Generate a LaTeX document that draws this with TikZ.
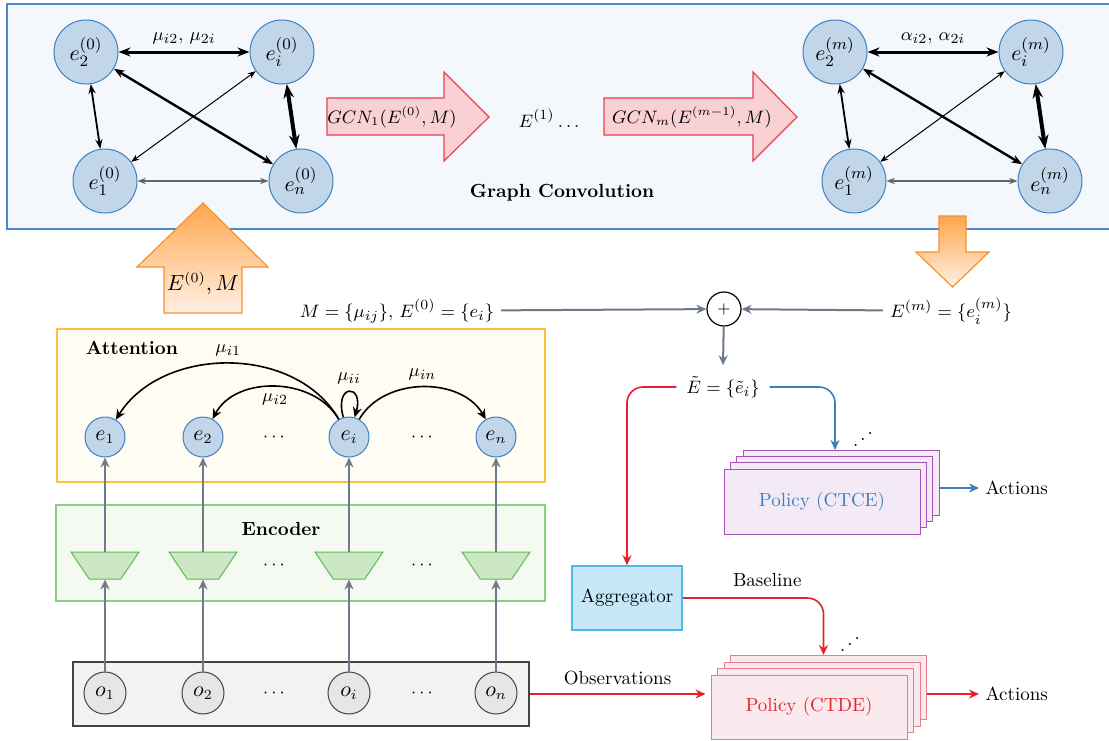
\documentclass[tikz,border=0pt]{standalone}
\usepackage{graphicx}
\usetikzlibrary{arrows.meta,shapes.geometric,calc}
\definecolor{gbfill}{HTML}{F4F8FC}
\definecolor{gbdraw}{HTML}{4A89C8}
\definecolor{nfill}{HTML}{C2D6EA}
\definecolor{ndraw}{HTML}{3F80C0}
\definecolor{pinkfill}{HTML}{F9D0D4}
\definecolor{pinkdraw}{HTML}{E8414F}
\definecolor{orangetop}{HTML}{FFA64D}
\definecolor{orangebot}{HTML}{FFF1E4}
\definecolor{orangedraw}{HTML}{F5922A}
\definecolor{attfill}{HTML}{FFFCF3}
\definecolor{attdraw}{HTML}{F7C33C}
\definecolor{encfill}{HTML}{F4F9F2}
\definecolor{encdraw}{HTML}{8CCF84}
\definecolor{trapfill}{HTML}{CBE7C6}
\definecolor{trapdraw}{HTML}{5DBB55}
\definecolor{obsfill}{HTML}{F2F2F2}
\definecolor{obsdraw}{HTML}{444444}
\definecolor{onodefill}{HTML}{E6E6E6}
\definecolor{slate}{HTML}{6E7A8A}
\definecolor{redline}{HTML}{E8202A}
\definecolor{blueline}{HTML}{3A7EBF}
\definecolor{aggfill}{HTML}{C6E8F8}
\definecolor{aggdraw}{HTML}{4FB8E6}
\definecolor{ctcefill}{HTML}{F3EAF5}
\definecolor{ctcedraw}{HTML}{A653BA}
\definecolor{ctdefill}{HTML}{FBEAED}
\definecolor{ctdedraw}{HTML}{E57F8D}
\begin{document}
\begin{tikzpicture}[x=0.5pt,y=0.5pt,line width=0.5pt,
  every node/.append style={font=\fontsize{9.5pt}{11pt}\selectfont},
  gnode/.style={circle,draw=ndraw,fill=nfill,minimum size=32pt,inner sep=0pt,line width=0.5pt,font=\fontsize{11pt}{13pt}\selectfont},
  anode/.style={circle,draw=ndraw,fill=nfill,minimum size=20pt,inner sep=0pt,line width=0.5pt,font=\fontsize{10.5pt}{12pt}\selectfont},
  onode/.style={circle,draw=obsdraw,fill=onodefill,minimum size=21pt,inner sep=0pt,line width=0.5pt,font=\fontsize{10.5pt}{12pt}\selectfont},
  encbox/.style={trapezium,trapezium angle=60,trapezium stretches=true,shape border rotate=180,minimum width=34pt,minimum height=13.5pt,inner sep=1pt,draw=trapdraw,fill=trapfill,line width=0.5pt},
  gedge/.style={{Stealth[length=3pt 2]}-{Stealth[length=3pt 2]}},
  garrow/.style={-{Stealth[length=5pt,width=4.5pt]},draw=slate,line width=1pt},
  attarrow/.style={-{Stealth[length=5pt,width=4.5pt]},line width=0.8pt},
  redarrow/.style={-{Stealth[length=5pt,width=4.5pt]},draw=redline,line width=0.8pt},
  bluearrow/.style={-{Stealth[length=5pt,width=4.5pt]},draw=blueline,line width=0.8pt},
  ctcebox/.style={rectangle,draw=ctcedraw,fill=ctcefill,minimum width=98pt,minimum height=32.5pt,inner sep=0pt},
  ctdebox/.style={rectangle,draw=ctdedraw,fill=ctdefill,minimum width=98pt,minimum height=32pt,inner sep=0pt},
  bigarrow/.style={draw=pinkdraw,fill=pinkfill,line width=0.6pt},
  orangearrow/.style={draw=orangedraw,top color=orangetop,bottom color=orangebot,line width=0.6pt},
  boldlabel/.style={font=\fontsize{9.5pt}{11pt}\selectfont\bfseries}
]
\useasboundingbox (0,0) rectangle (1109,-740);

% ---------- Graph convolution box ----------
\draw[draw=gbdraw,fill=gbfill,line width=0.6pt] (7,-4) rectangle (1125,-229);

% left graph
\node[gnode] (a2) at (86,-52) {$e_2^{(0)}$};
\node[gnode] (ai) at (282,-52) {$e_i^{(0)}$};
\node[gnode] (a1) at (105,-181) {$e_1^{(0)}$};
\node[gnode] (an) at (301,-181) {$e_n^{(0)}$};
\draw[gedge,line width=1.5pt] (a2) -- node[above] {$\mu_{i2},\,\mu_{2i}$} (ai);
\draw[gedge,line width=0.9pt] (a2) -- (a1);
\draw[gedge,line width=0.5pt] (ai) -- (a1);
\draw[gedge,line width=1.2pt] (a2) -- (an);
\draw[gedge,line width=2pt] (ai) -- (an);
\draw[gedge,line width=0.6pt,draw=black!60] (a1) -- (an);

% right graph
\node[gnode] (b2) at (835,-52) {$e_2^{(m)}$};
\node[gnode] (bi) at (1031,-52) {$e_i^{(m)}$};
\node[gnode] (b1) at (854,-181) {$e_1^{(m)}$};
\node[gnode] (bn) at (1050,-181) {$e_n^{(m)}$};
\draw[gedge,line width=1.5pt] (b2) -- node[above] {$\alpha_{i2},\,\alpha_{2i}$} (bi);
\draw[gedge,line width=0.9pt] (b2) -- (b1);
\draw[gedge,line width=0.5pt] (bi) -- (b1);
\draw[gedge,line width=1.2pt] (b2) -- (bn);
\draw[gedge,line width=2pt] (bi) -- (bn);
\draw[gedge,line width=0.6pt,draw=black!60] (b1) -- (bn);

% GCN arrows
\draw[bigarrow] (327,-98) -- (444,-98) -- (444,-72) -- (489,-117) -- (444,-161) -- (444,-135) -- (327,-135) -- cycle;
\node[font=\fontsize{9pt}{11pt}\selectfont] (gcn1) at (392,-117) {$GCN_1(E^{(0)},M)$};
\node (e1dots) at (549,-118) {$E^{(1)}\ldots$};
\draw[bigarrow] (604,-98) -- (753,-98) -- (753,-72) -- (797,-117) -- (753,-161) -- (753,-135) -- (604,-135) -- cycle;
\node[font=\fontsize{9pt}{11pt}\selectfont] (gcnm) at (692,-117) {$GCN_m(E^{(m-1)},M)$};
\node[boldlabel] (gclabel) at (562,-193) {Graph Convolution};

% orange arrows
\path[orangearrow] (164,-313) -- (164,-267) -- (137,-267) -- (203,-203) -- (268,-267) -- (242,-267) -- (242,-313) -- cycle;
\node[font=\fontsize{10.5pt}{12pt}\selectfont] (e0m) at (203,-283) {$E^{(0)},M$};
\path[orangearrow] (939,-216) -- (966,-216) -- (966,-252) -- (989,-252) -- (952.5,-287) -- (916,-252) -- (939,-252) -- cycle;

% ---------- Attention ----------
\draw[draw=attdraw,fill=attfill,line width=0.6pt] (57,-329) rectangle (545,-482);
\node[boldlabel] (attlabel) at (132,-348) {Attention};
\node[anode] (p1) at (105,-437) {$e_1$};
\node[anode] (p2) at (203,-437) {$e_2$};
\node (pd1) at (274,-437) {$\cdots$};
\node[anode] (pi) at (349,-437) {$e_i$};
\node (pd2) at (422,-437) {$\cdots$};
\node[anode] (pn) at (496,-437) {$e_n$};
\draw[attarrow] (pi) to[out=120,in=58] node[above] {$\mu_{i1}$} (p1);
\draw[attarrow] (pi) to[out=120,in=62] node[below] {$\mu_{i2}$} (p2);
\draw[attarrow] (pi) to[out=106,in=74,min distance=15pt,looseness=8] node[above] {$\mu_{ii}$} (pi);
\draw[attarrow] (pi) to[out=60,in=120] node[above] {$\mu_{in}$} (pn);

% ---------- Encoder ----------
\draw[draw=encdraw,fill=encfill,line width=0.6pt] (56,-505) rectangle (545,-601);
\node[boldlabel] (enclabel) at (281,-529) {Encoder};
\node[encbox] (t1) at (105,-565.5) {};
\node[encbox] (t2) at (203,-565.5) {};
\node (td1) at (274,-565) {$\cdots$};
\node[encbox] (ti) at (349,-565.5) {};
\node (td2) at (422,-565) {$\cdots$};
\node[encbox] (tn) at (496,-565.5) {};

% ---------- Observations ----------
\node[rectangle,draw=obsdraw,fill=obsfill,minimum width=228pt,minimum height=32pt,inner sep=0pt,line width=0.6pt] (obsbox) at (301,-694) {};
\node[onode] (o1) at (105,-693) {$o_1$};
\node[onode] (o2) at (203,-693) {$o_2$};
\node (od1) at (274,-693) {$\cdots$};
\node[onode] (oi) at (349,-693) {$o_i$};
\node (od2) at (422,-693) {$\cdots$};
\node[onode] (on) at (496,-693) {$o_n$};

\foreach \k in {1,2,i,n}{
  \draw[garrow] (o\k) -- (t\k);
  \draw[garrow] (t\k) -- (p\k);
}

% ---------- Combination ----------
\node (mtext) at (397,-311) {$M=\{\mu_{ij}\},\,E^{(0)}=\{e_i\}$};
\node[circle,draw=black,fill=white,minimum size=17pt,inner sep=0pt,line width=0.6pt,font=\fontsize{8pt}{9pt}\selectfont] (plus) at (724,-309) {$+$};
\node (emtext) at (951,-311) {$E^{(m)}=\{e_i^{(m)}\}$};
\node (etil) at (723,-387) {$\tilde{E}=\{\tilde{e}_i\}$};
\draw[garrow] (mtext) -- (plus);
\draw[garrow] (emtext) -- (plus);
\draw[garrow] (plus) -- ($(etil.north)+(0,4)$);

% aggregator
\node[rectangle,draw=aggdraw,fill=aggfill,minimum width=55pt,minimum height=32pt,inner sep=0pt,line width=0.8pt] (agg) at (627,-598) {Aggregator};
\draw[redarrow,rounded corners=8pt] ($(etil.west)+(-3,0)$) -| (agg.north);

% CTCE stack
\node[ctcebox] (c4) at (841,-483) {};
\node[ctcebox] (c3) at (834.7,-489.2) {};
\node[ctcebox] (c2) at (828.3,-495.4) {};
\node[ctcebox,text=blueline] (c1) at (822,-501.5) {Policy (CTCE)};
\coordinate (ctin) at ($(c4.north)+(-6,0)$);
\draw[bluearrow,rounded corners=8pt] ($(etil.east)+(3,0)$) -| (ctin);
\node (cdots) at (863,-433) {\reflectbox{$\ddots$}};
\node[anchor=west,inner sep=0pt] (act1) at (985,-488) {Actions};
\draw[bluearrow] (c4.east |- act1) -- ($(act1.west)+(-6,0)$);

% CTDE stack
\node[ctdebox] (d4) at (828.5,-687.5) {};
\node[ctdebox] (d3) at (822,-694) {};
\node[ctdebox] (d2) at (815.5,-700.5) {};
\node[ctdebox,text=redline] (d1) at (809,-707) {Policy (CTDE)};
\coordinate (ctdin) at ($(d4.north)+(-5,0)$);
\draw[redarrow,rounded corners=8pt] (agg.east) -| node[pos=0.3,above=2pt] {Baseline} (ctdin);
\node (ddots) at (850,-638) {\reflectbox{$\ddots$}};
\draw[redarrow] (obsbox.east) -- node[above=1pt] {Observations} ($(obsbox.east -| d1.west)+(-5,0)$);
\node[anchor=west,inner sep=0pt] (act2) at (985,-694) {Actions};
\draw[redarrow] (d4.east |- act2) -- ($(act2.west)+(-6,0)$);
\end{tikzpicture}
\end{document}
